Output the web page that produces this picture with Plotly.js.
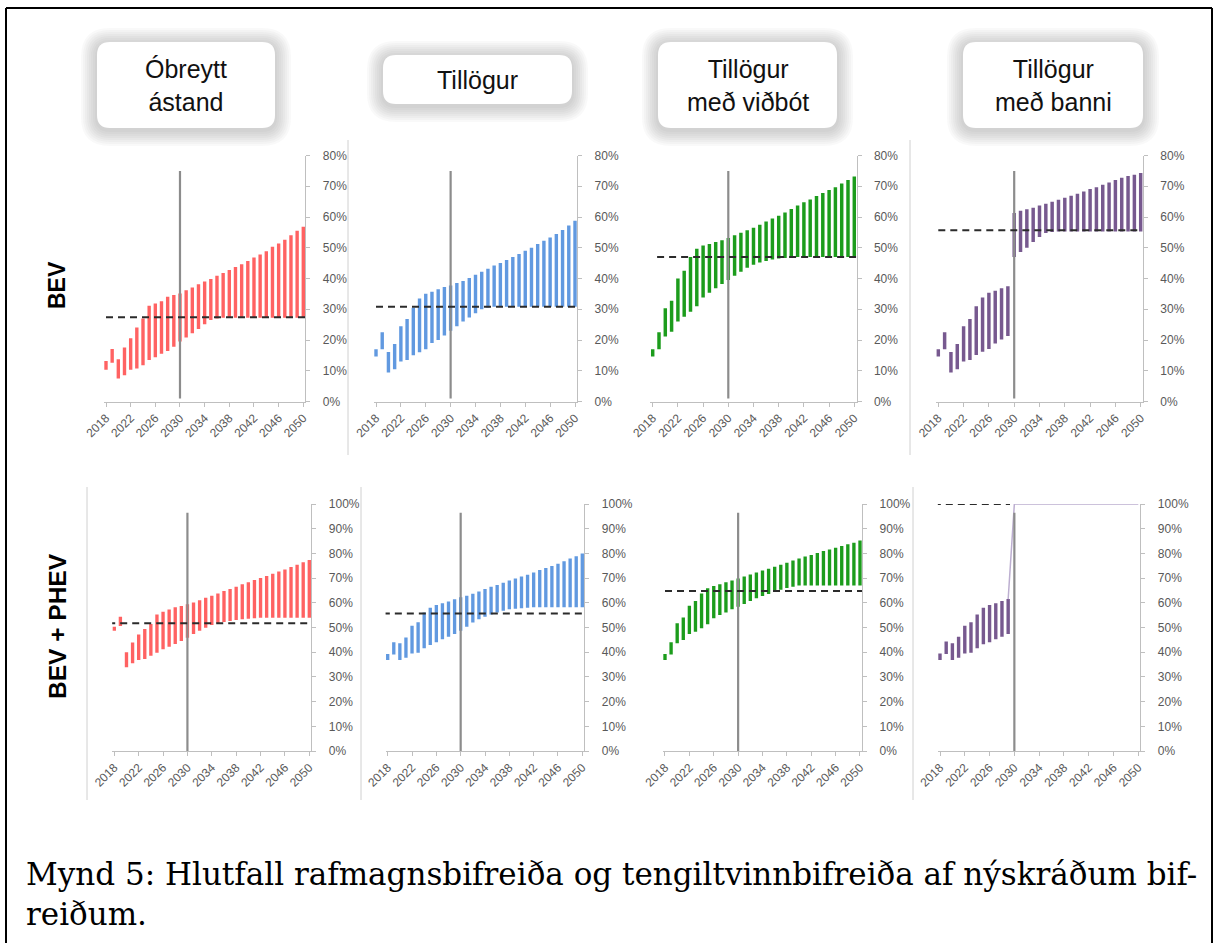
<!DOCTYPE html>
<html>
<head>
<meta charset="utf-8">
<script src="https://cdn.plot.ly/plotly-3.0.1.min.js"></script>
<style>
  html, body { margin: 0; padding: 0; background: #fff; }
  #chart { width: 1217px; height: 943px; }
</style>
</head>
<body>
<div id="chart"></div>
<script>
// years on every x axis
const years = [2018, 2019, 2020, 2021, 2022, 2023, 2024, 2025, 2026, 2027, 2028,
               2029, 2030, 2031, 2032, 2033, 2034, 2035, 2036, 2037, 2038, 2039,
               2040, 2041, 2042, 2043, 2044, 2045, 2046, 2047, 2048, 2049, 2050];

const scenarios = ['Óbreytt<br>ástand', 'Tillögur', 'Tillögur<br>með viðbót', 'Tillögur<br>með banni'];
const rowNames = ['BEV', 'BEV + PHEV'];

// BEV share of new registrations (%), low and high end of each year's range
const bevBaseLow  = [10.3, 12.6, 7.5, 8.5, 10.3, 10.7, 11.8, 13.5, 14.4, 15.5, 16.4, 17.8, 19.5, 20.8, 22.2, 23.6, 25.1, 26.5, 27.0,
                     27.2, 27.2, 27.2, 27.2, 27.2, 27.2, 27.2, 27.2, 27.2, 27.2, 27.2, 27.2, 27.2, 27.2];
const bevBaseHigh = [13.2, 17.1, 13.7, 17.6, 20.6, 24.1, 27.0, 31.1, 31.9, 32.6, 34.1, 34.6, 35.1, 36.2, 37.1, 38.1, 39.0, 39.8, 40.9,
                     41.8, 42.8, 43.7, 44.6, 45.7, 46.8, 47.8, 48.9, 50.3, 51.4, 52.6, 54.1, 55.5, 56.8];

const bevPropLow  = [14.6, 17.0, 9.4, 10.5, 13.0, 13.5, 15.0, 16.0, 17.0, 19.0, 20.0, 21.5, 23.0, 24.5, 26.0, 27.3, 28.7, 30.0, 30.5,
                     30.8, 30.8, 30.8, 30.8, 30.8, 30.8, 30.8, 30.8, 30.8, 30.8, 30.8, 30.8, 30.8, 30.8];
const bevPropHigh = [17.0, 22.5, 16.1, 18.7, 24.5, 26.8, 30.5, 33.5, 35.0, 35.7, 36.5, 37.2, 37.7, 38.5, 39.2, 40.2, 41.2, 42.2, 43.2,
                     44.2, 45.0, 46.0, 47.0, 48.0, 49.0, 50.0, 51.2, 52.3, 53.3, 54.5, 55.8, 57.2, 58.8];

const bevAddLow   = [14.6, 17.0, 21.1, 22.7, 26.0, 27.6, 29.2, 31.0, 33.8, 35.4, 36.8, 38.2, 39.5, 40.9, 42.2, 43.5, 44.5, 45.2, 45.7,
                     46.2, 46.5, 46.7, 46.8, 47.0, 47.0, 47.0, 47.0, 47.0, 47.0, 47.0, 47.0, 47.0, 47.0];
const bevAddHigh  = [17.0, 22.5, 30.3, 32.8, 40.0, 42.5, 47.0, 49.7, 50.7, 51.2, 51.9, 52.4, 53.2, 54.1, 54.9, 55.7, 56.5, 57.5, 58.5,
                     59.5, 60.4, 61.5, 62.6, 63.7, 64.8, 65.7, 66.8, 67.8, 68.8, 69.7, 70.9, 72.0, 73.2];

const bevBanLow   = [14.6, 17.0, 9.4, 10.5, 13.0, 13.5, 15.1, 16.2, 17.1, 18.9, 20.2, 21.3, 47.0, 48.6, 50.0, 51.9, 53.5, 54.8, 55.1,
                     55.3, 55.3, 55.3, 55.3, 55.3, 55.3, 55.3, 55.3, 55.3, 55.3, 55.3, 55.3, 55.3, 55.3];
const bevBanHigh  = [17.0, 22.5, 16.1, 18.7, 24.5, 26.8, 31.0, 33.8, 35.4, 36.0, 36.8, 37.5, 61.3, 62.0, 62.5, 63.0, 63.7, 64.3, 65.0,
                     65.6, 66.3, 66.9, 67.6, 68.3, 69.1, 69.7, 70.5, 71.2, 72.0, 72.8, 73.3, 73.7, 74.3];

// BEV + PHEV share (%)
const phevBaseLow  = [48.7, 50.6, 33.9, 35.5, 36.8, 37.2, 38.6, 39.8, 41.2, 42.2, 43.3, 44.5, 45.9, 47.4, 48.7, 49.9, 51.0, 51.7, 52.2,
                      52.6, 53.0, 53.3, 53.5, 53.7, 53.9, 53.9, 53.9, 53.9, 53.9, 53.9, 53.9, 53.9, 53.9];
const phevBaseHigh = [50.3, 54.4, 40.0, 43.9, 47.2, 49.4, 51.4, 55.3, 56.4, 57.3, 58.2, 58.7, 59.4, 60.1, 61.0, 62.0, 62.9, 63.8, 64.8,
                      65.6, 66.5, 67.5, 68.3, 69.2, 70.0, 70.9, 71.8, 72.7, 73.5, 74.5, 75.4, 76.4, 77.3];

const phevPropLow  = [36.8, 39.1, 36.8, 37.8, 39.5, 39.8, 41.6, 42.9, 44.0, 45.2, 46.3, 47.4, 48.7, 50.3, 52.0, 53.3, 54.4, 55.3, 56.1,
                      56.8, 57.4, 57.6, 57.8, 58.0, 58.2, 58.2, 58.2, 58.2, 58.2, 58.2, 58.2, 58.2, 58.2];
const phevPropHigh = [39.3, 44.0, 43.6, 46.0, 50.7, 52.1, 56.1, 58.0, 59.1, 59.8, 60.5, 61.4, 62.2, 62.9, 63.7, 64.6, 65.6, 66.5, 67.2,
                      68.1, 69.0, 69.8, 70.6, 71.4, 72.3, 73.3, 74.1, 74.9, 75.8, 76.8, 77.9, 78.8, 80.0];

const phevAddLow   = [36.8, 39.1, 43.6, 44.9, 47.4, 48.3, 49.7, 51.3, 53.7, 55.1, 56.1, 57.4, 58.4, 59.5, 60.7, 61.8, 62.8, 63.6, 64.5,
                      65.3, 66.0, 66.5, 67.0, 67.0, 67.0, 67.0, 67.0, 67.0, 67.0, 67.0, 67.0, 67.0, 67.0];
const phevAddHigh  = [39.3, 44.0, 51.7, 54.0, 58.8, 60.7, 63.8, 65.9, 66.8, 67.5, 68.3, 69.0, 69.8, 70.6, 71.5, 72.3, 73.1, 73.8, 74.6,
                      75.4, 76.2, 77.1, 77.9, 78.7, 79.4, 80.2, 81.0, 81.6, 82.3, 83.0, 83.7, 84.3, 85.2];

const phevBanLow   = [36.8, 39.3, 36.8, 37.8, 39.5, 39.8, 41.6, 43.2, 44.0, 45.2, 46.3, 47.4,
                      null, null, null, null, null, null, null, null, null, null, null, null, null, null, null, null, null, null, null, null, null];
const phevBanHigh  = [39.5, 44.3, 43.6, 46.3, 50.7, 52.1, 55.3, 58.0, 59.1, 59.8, 60.7, 61.5,
                      null, null, null, null, null, null, null, null, null, null, null, null, null, null, null, null, null, null, null, null, null];
// outline of the ban scenario after 2030
const banLineYears = [2029, 2030, 2050];
const banLineShare = [61.5, 100, 100];

// dashed target levels (%) and their x extent
const targetLevel = [27.4, 30.8, 47.0, 55.7, 51.7, 55.7, 64.8, 100];
const targetFrom  = [2018, 2018, 2018.7, 2018, 2017, 2017.2, 2018, 2017];
const targetTo    = [2050.4, 2050.4, 2050.4, 2050.2, 2050.3, 2050.4, 2050.4, 2029.3];

// 2030 marker line
const markerYear = 2030;
const markerSpan = [[1, 75], [0, 96.5]];

const lows  = [bevBaseLow, bevPropLow, bevAddLow, bevBanLow, phevBaseLow, phevPropLow, phevAddLow, phevBanLow];
const highs = [bevBaseHigh, bevPropHigh, bevAddHigh, bevBanHigh, phevBaseHigh, phevPropHigh, phevAddHigh, phevBanHigh];
const colors = ['#ff6262', '#6199e0', '#1c9c1c', '#77598f'];

// ---- layout geometry (pixels) ----
const W = 1217, H = 943;
// [x of 2018, x of 2050, y of top value, y of 0%]
const panelPx = [
    [106, 303.3, 155.5, 401.5],
    [376, 575, 155.5, 401.5],
    [652.7, 854.3, 155.5, 401.5],
    [938.3, 1140.7, 155.5, 401.5],
    [114.3, 309.3, 504, 751],
    [387.7, 582.3, 504, 751],
    [665, 860, 504, 751],
    [940, 1138.3, 504, 751]
];
const pad = 0.35;
const FONT = 'Liberation Sans, Arial, sans-serif';

function px(x) { return x / W; }
function py(y) { return 1 - y / H; }

const data = [];
const layout = {
    width: W, height: H,
    margin: {l: 0, r: 0, t: 0, b: 0},
    paper_bgcolor: '#ffffff',
    plot_bgcolor: 'rgba(0,0,0,0)',
    showlegend: false,
    shapes: [],
    annotations: []
};

for (let i = 0; i < 8; i++) {
    const n = i + 1;
    const xa = n === 1 ? 'x' : 'x' + n;
    const ya = n === 1 ? 'y' : 'y' + n;
    const row = i < 4 ? 0 : 1;
    const [x18, x50, yTop, yZero] = panelPx[i];
    const ppy = (x50 - x18) / 32;

    const heights = highs[i].map((h, k) => h === null ? null : +(h - lows[i][k]).toFixed(2));
    data.push({
        type: 'bar', x: years, y: heights, base: lows[i], width: 0.55,
        marker: {color: colors[i % 4], line: {width: 0}},
        xaxis: xa, yaxis: ya, hoverinfo: 'skip'
    });
    if (i === 7) {
        data.push({
            type: 'scatter', mode: 'lines', x: banLineYears, y: banLineShare,
            line: {color: '#bcaed0', width: 1.5}, xaxis: xa, yaxis: ya, hoverinfo: 'skip'
        });
    }
    data.push({
        type: 'scatter', mode: 'lines', x: [markerYear, markerYear], y: markerSpan[row],
        line: {color: '#8c8c8c', width: 2.2}, xaxis: xa, yaxis: ya, hoverinfo: 'skip'
    });
    data.push({
        type: 'scatter', mode: 'lines', x: [targetFrom[i], targetTo[i]], y: [targetLevel[i], targetLevel[i]],
        line: {color: '#2b2b2b', width: 2, dash: '7px,5px'}, xaxis: xa, yaxis: ya, hoverinfo: 'skip'
    });

    const axKey = n === 1 ? 'xaxis' : 'xaxis' + n;
    const ayKey = n === 1 ? 'yaxis' : 'yaxis' + n;
    layout[axKey] = {
        domain: [px(x18 - pad * ppy), px(x50 + pad * ppy)],
        range: [2018 - pad, 2050 + pad],
        anchor: ya,
        tickmode: 'linear', tick0: 2018, dtick: 4,
        tickangle: -45,
        tickfont: {family: FONT, size: 12, color: '#595959'},
        showline: true, linecolor: '#bfbfbf', linewidth: 1,
        ticks: 'outside', ticklen: 4, tickcolor: '#bfbfbf',
        showgrid: false, zeroline: false, fixedrange: true
    };
    layout[ayKey] = {
        domain: [py(yZero), py(yTop)],
        range: row === 0 ? [0, 80] : [0, 100],
        anchor: xa, side: 'right',
        tickmode: 'linear', tick0: 0, dtick: 10, ticksuffix: '%',
        tickfont: {family: FONT, size: 12, color: '#595959'},
        showline: true, linecolor: '#bfbfbf', linewidth: 1,
        ticks: 'outside', ticklen: 4, tickcolor: '#bfbfbf',
        ticklabelstandoff: 10,
        showgrid: false, zeroline: false, fixedrange: true
    };
}

// header boxes with soft glow
function roundRect(x0, y0, x1, y1, r) {
    return 'M ' + px(x0 + r) + ',' + py(y0) +
        ' L ' + px(x1 - r) + ',' + py(y0) +
        ' Q ' + px(x1) + ',' + py(y0) + ' ' + px(x1) + ',' + py(y0 + r) +
        ' L ' + px(x1) + ',' + py(y1 - r) +
        ' Q ' + px(x1) + ',' + py(y1) + ' ' + px(x1 - r) + ',' + py(y1) +
        ' L ' + px(x0 + r) + ',' + py(y1) +
        ' Q ' + px(x0) + ',' + py(y1) + ' ' + px(x0) + ',' + py(y1 - r) +
        ' L ' + px(x0) + ',' + py(y0 + r) +
        ' Q ' + px(x0) + ',' + py(y0) + ' ' + px(x0 + r) + ',' + py(y0) + ' Z';
}
const boxes = [[97, 42, 275, 128], [383, 55, 572, 104], [658, 42, 837, 128], [963, 42, 1143, 128]];
boxes.forEach(function (b, k) {
    for (let g = 8; g >= 1; g--) {
        const e = g * 2;
        layout.shapes.push({
            type: 'path', xref: 'paper', yref: 'paper',
            path: roundRect(b[0] - e, b[1] - e + 2, b[2] + e, b[3] + e + 2, 13 + e),
            fillcolor: 'rgba(110,110,110,0.04)', line: {width: 0}
        });
    }
    layout.shapes.push({
        type: 'path', xref: 'paper', yref: 'paper',
        path: roundRect(b[0], b[1], b[2], b[3], 13),
        fillcolor: '#ffffff', line: {width: 0}
    });
    layout.annotations.push({
        xref: 'paper', yref: 'paper', x: px((b[0] + b[2]) / 2), y: py((b[1] + b[3]) / 2),
        xanchor: 'center', yanchor: 'middle',
        text: scenarios[k], showarrow: false, align: 'center',
        font: {family: FONT, size: 25, color: '#111111'}
    });
});

// row labels
layout.annotations.push(
    {xref: 'paper', yref: 'paper', x: px(57), y: py(285), xanchor: 'center', yanchor: 'middle',
     text: '<b>' + rowNames[0] + '</b>', textangle: -90,
     showarrow: false, font: {family: FONT, size: 23, color: '#000'}},
    {xref: 'paper', yref: 'paper', x: px(57), y: py(626), xanchor: 'center', yanchor: 'middle',
     text: '<b>' + rowNames[1] + '</b>', textangle: -90,
     showarrow: false, font: {family: FONT, size: 24.5, color: '#000'}}
);

// caption
layout.annotations.push(
    {xref: 'paper', yref: 'paper', x: px(24), y: py(874), xanchor: 'left', yanchor: 'middle', showarrow: false,
     text: 'Mynd 5: Hlutfall rafmagnsbifreiða og tengiltvinnbifreiða af nýskráðum bif-',
     font: {family: 'DejaVu Serif, serif', size: 31, color: '#000'}},
    {xref: 'paper', yref: 'paper', x: px(24), y: py(914), xanchor: 'left', yanchor: 'middle', showarrow: false,
     text: 'reiðum.',
     font: {family: 'DejaVu Serif, serif', size: 31, color: '#000'}}
);

// thin separators left over from the slide
const seps = [[348, 140, 455], [910, 140, 455], [87, 487, 800], [361, 487, 800], [913, 487, 800]];
seps.forEach(function (s) {
    layout.shapes.push({type: 'line', xref: 'paper', yref: 'paper',
        x0: px(s[0]), x1: px(s[0]), y0: py(s[1]), y1: py(s[2]),
        line: {color: '#d0d0d0', width: 1}});
});

// outer frame
layout.shapes.push(
    {type: 'line', xref: 'paper', yref: 'paper', x0: px(6), x1: px(1212), y0: py(8), y1: py(8), line: {color: '#000', width: 2}},
    {type: 'line', xref: 'paper', yref: 'paper', x0: px(6), x1: px(6), y0: py(8), y1: py(943), line: {color: '#000', width: 2}},
    {type: 'line', xref: 'paper', yref: 'paper', x0: px(1212), x1: px(1212), y0: py(8), y1: py(943), line: {color: '#000', width: 2}}
);

Plotly.newPlot('chart', data, layout, {staticPlot: true, displayModeBar: false});
</script>
</body>
</html>
